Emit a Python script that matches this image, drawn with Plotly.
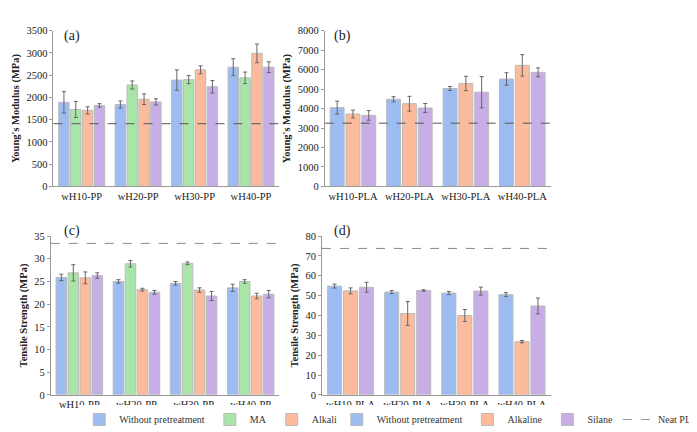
import plotly.graph_objects as go

pp_cats = ["wH10-PP", "wH20-PP", "wH30-PP", "wH40-PP"]
pla_cats = ["wH10-PLA", "wH20-PLA", "wH30-PLA", "wH40-PLA"]

# (a) Young's modulus PP
a_without = [1890, 1840, 2390, 2680]; a_without_err = [240, 80, 230, 190]
a_ma = [1730, 2280, 2400, 2440]; a_ma_err = [180, 90, 90, 130]
a_alk = [1710, 1960, 2620, 2990]; a_alk_err = [80, 120, 90, 210]
a_sil = [1820, 1900, 2240, 2680]; a_sil_err = [40, 70, 140, 120]
neat_pp_ym = 1410
# (b) Young's modulus PLA
b_without = [4050, 4480, 5030, 5520]; b_without_err = [330, 130, 100, 320]
b_alk = [3720, 4250, 5290, 6220]; b_alk_err = [200, 380, 370, 550]
b_sil = [3650, 4030, 4840, 5860]; b_sil_err = [250, 230, 800, 230]
neat_pla_ym = 3250
# (c) Tensile strength PP
c_without = [25.9, 25.0, 24.6, 23.6]; c_without_err = [0.7, 0.4, 0.4, 0.8]
c_ma = [26.9, 28.9, 29.0, 25.0]; c_ma_err = [1.8, 0.7, 0.3, 0.4]
c_alk = [25.8, 23.2, 23.1, 21.8]; c_alk_err = [1.3, 0.3, 0.5, 0.6]
c_sil = [26.3, 22.6, 21.8, 22.2]; c_sil_err = [0.6, 0.4, 1.0, 0.8]
neat_pp_ts = 33.4
# (d) Tensile strength PLA
d_without = [54.8, 51.8, 51.3, 50.5]; d_without_err = [1.0, 0.8, 0.8, 1.0]
d_alk = [52.4, 41.0, 40.0, 26.8]; d_alk_err = [1.5, 6.0, 3.0, 0.6]
d_sil = [54.2, 52.6, 52.3, 44.8]; d_sil_err = [2.5, 0.4, 2.0, 4.0]
neat_pla_ts = 73.8

COL = {"Without pretreatment": "#9dbcf2", "MA": "#a9e5a9",
       "Alkaline": "#fbbb9c", "Silane": "#c7aee6"}
FONT = "Liberation Serif"
fig = go.Figure()

def add_bars(n, cats, series, legend, show):
    for name, vals, err in series:
        fig.add_trace(go.Bar(
            x=cats, y=vals, name=name,
            error_y=dict(type="data", array=err, color="#666", thickness=1, width=2),
            marker=dict(color=COL[name], line=dict(color="#bbbbbb", width=1)),
            xaxis="x" + ("" if n == 1 else str(n)), yaxis="y" + ("" if n == 1 else str(n)),
            legend=legend, showlegend=show))

add_bars(1, pp_cats, [("Without pretreatment", a_without, a_without_err), ("MA", a_ma, a_ma_err),
                      ("Alkaline", a_alk, a_alk_err), ("Silane", a_sil, a_sil_err)], "legend", True)
add_bars(2, pla_cats, [("Without pretreatment", b_without, b_without_err),
                       ("Alkaline", b_alk, b_alk_err), ("Silane", b_sil, b_sil_err)], "legend2", True)
add_bars(3, pp_cats, [("Without pretreatment", c_without, c_without_err), ("MA", c_ma, c_ma_err),
                      ("Alkaline", c_alk, c_alk_err), ("Silane", c_sil, c_sil_err)], "legend", False)
add_bars(4, pla_cats, [("Without pretreatment", d_without, d_without_err),
                       ("Alkaline", d_alk, d_alk_err), ("Silane", d_sil, d_sil_err)], "legend2", False)

fig.add_trace(go.Scatter(x=[None], y=[None], mode="lines", name="Neat PP",
                         line=dict(color="#555", dash="dash", width=1), legend="legend"))
fig.add_trace(go.Scatter(x=[None], y=[None], mode="lines", name="Neat PLA",
                         line=dict(color="#999", dash="dash", width=1), legend="legend2"))

for n, val, col in [(1, neat_pp_ym, "#555"), (2, neat_pla_ym, "#555"),
                    (3, neat_pp_ts, "#888"), (4, neat_pla_ts, "#888")]:
    s = "" if n == 1 else str(n)
    fig.add_shape(type="line", xref="x" + s + " domain", yref="y" + s,
                  x0=0, x1=1, y0=val, y1=val, line=dict(color=col, dash="dash", width=1))

ax = dict(showline=True, linecolor="#999", linewidth=1, ticks="outside", ticklen=3,
          tickcolor="#999", showgrid=False, zeroline=False,
          tickfont=dict(family=FONT, size=10.5, color="#222"))
xx = dict(showline=True, linecolor="#999", linewidth=1, ticks="", showgrid=False,
          tickangle=0, tickfont=dict(family=FONT, size=10.5, color="#222"))
tf = dict(family=FONT, size=10.5, color="#222")
lf = dict(family=FONT, size=10, color="#333")
fig.update_layout(
    width=697, height=432, margin=dict(l=0, r=0, t=0, b=0),
    paper_bgcolor="white", plot_bgcolor="white", barmode="group",
    bargap=0.16, bargroupgap=0.12,
    xaxis=dict(domain=[0.083, 0.495], anchor="y", **xx),
    yaxis=dict(domain=[0.588, 0.958], anchor="x", range=[0, 3500], dtick=500,
               title=dict(text="<b>Young's Modulus (MPa)</b>", font=tf, standoff=4), **ax),
    xaxis2=dict(domain=[0.578, 0.99], anchor="y2", **xx),
    yaxis2=dict(domain=[0.588, 0.958], anchor="x2", range=[0, 8000], dtick=1000,
                title=dict(text="<b>Young's Modulus (MPa)</b>", font=tf, standoff=4), **ax),
    xaxis3=dict(domain=[0.078, 0.495], anchor="y3", **xx),
    yaxis3=dict(domain=[0.093, 0.47], anchor="x3", range=[0, 35], dtick=5,
                title=dict(text="<b>Tensile Strength (MPa)</b>", font=tf, standoff=4), **ax),
    xaxis4=dict(domain=[0.573, 0.99], anchor="y4", **xx),
    yaxis4=dict(domain=[0.093, 0.47], anchor="x4", range=[0, 80], dtick=10,
                title=dict(text="<b>Tensile Strength (MPa)</b>", font=tf, standoff=4), **ax),
    legend=dict(orientation="h", x=0.13, y=0.0, xanchor="left", yanchor="bottom",
                font=lf, itemwidth=30, tracegroupgap=0),
    legend2=dict(orientation="h", x=0.6, y=0.0, xanchor="left", yanchor="bottom",
                 font=lf, itemwidth=30),
    annotations=[
        dict(text="(a)", x=0.098, y=0.97, xref="paper", yref="paper", showarrow=False,
             xanchor="left", yanchor="top", font=dict(family=FONT, size=14, color="#222")),
        dict(text="(b)", x=0.592, y=0.97, xref="paper", yref="paper", showarrow=False,
             xanchor="left", yanchor="top", font=dict(family=FONT, size=14, color="#222")),
        dict(text="(c)", x=0.098, y=0.505, xref="paper", yref="paper", showarrow=False,
             xanchor="left", yanchor="top", font=dict(family=FONT, size=14, color="#222")),
        dict(text="(d)", x=0.592, y=0.505, xref="paper", yref="paper", showarrow=False,
             xanchor="left", yanchor="top", font=dict(family=FONT, size=14, color="#222")),
    ],
)
fig.write_html("out.html")
